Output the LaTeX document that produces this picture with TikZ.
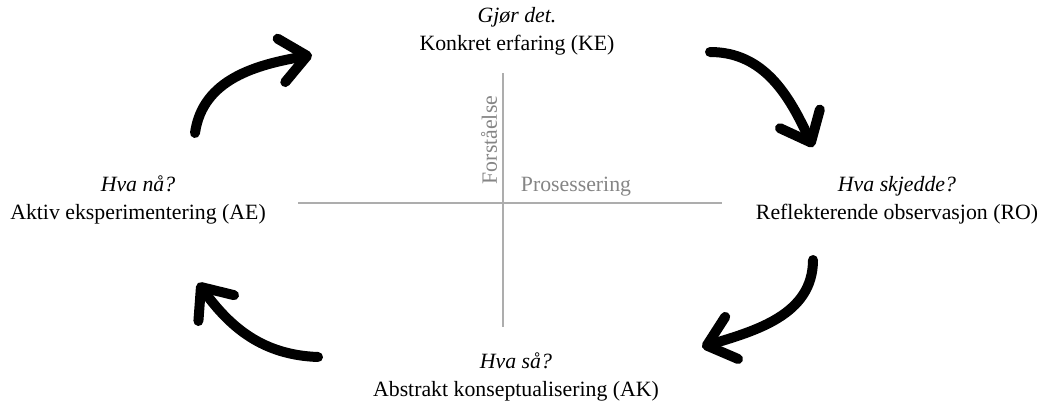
\documentclass[tikz,border=0pt]{standalone}
\usepackage{fontspec}
\setmainfont{Liberation Serif}
\usetikzlibrary{arrows.meta,positioning}

\begin{document}
\begin{tikzpicture}[
        x=0.5pt, y=0.5pt,
        stage/.style={align=center, inner sep=0pt, font=\fontsize{10.9}{13.8}\selectfont},
        cycle/.style={line width=5pt, line cap=round, line join=round,
            -{Straight Barb[length=13pt, width=22pt, round]}},
        axis/.style={line width=1pt, draw=black!32},
        axis_label/.style={inner sep=0pt, text=black!48, font=\fontsize{10.9}{12}\selectfont}
    ]
    \useasboundingbox (0,0) rectangle (1038,408);

    % Stages of the cycle
    \node[stage] (ke) at (517,377) {\textit{Gjør det.}\\Konkret erfaring (KE)};
    \node[stage] (ro) at (897,208) {\textit{Hva skjedde?}\\Reflekterende observasjon (RO)};
    \node[stage] (ak) at (516,31) {\textit{Hva så?}\\Abstrakt konseptualisering (AK)};
    \node[stage] (ae) at (138,208) {\textit{Hva nå?}\\Aktiv eksperimentering (AE)};

    % Axes
    \coordinate (hl) at (298,205);
    \coordinate (hr) at (722,205);
    \coordinate (vt) at (503,335);
    \coordinate (vb) at (503,81);
    \draw[axis] (hl) -- (hr);
    \draw[axis] (vt) -- (vb);
    \node[axis_label, rotate=90] (forst) at (489,268) {Forståelse};
    \node[axis_label] (pros) at (576,221) {Prosessering};

    % Arrows round the cycle
    \coordinate (a1) at (195,275);  \coordinate (b1) at (312,353);
    \coordinate (a2) at (710,356);  \coordinate (b2) at (813,261);
    \coordinate (a3) at (813,148);  \coordinate (b3) at (702,61);
    \coordinate (a4) at (318,51);   \coordinate (b4) at (198,125);
    \draw[cycle] (a1) to[out=82, in=190] (b1);
    \draw[cycle] (a2) to[out=0, in=115] (b2);
    \draw[cycle] (a3) to[out=-90, in=17] (b3);
    \draw[cycle] (a4) to[out=178, in=-54] (b4);
\end{tikzpicture}
\end{document}
